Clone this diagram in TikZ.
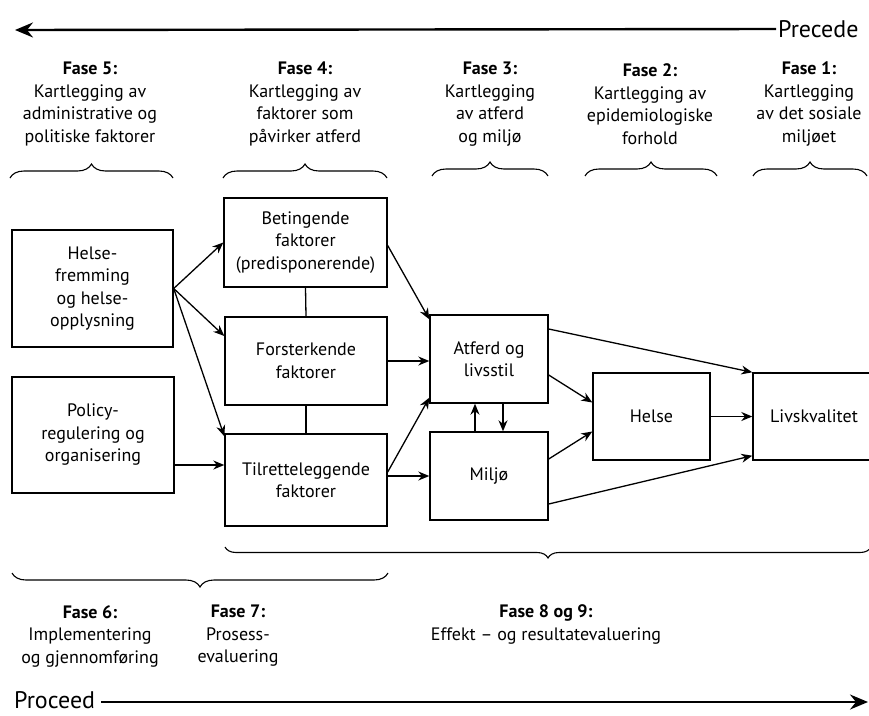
\documentclass[tikz,border=0pt]{standalone}
\usepackage{fontspec}
\setmainfont{PT Sans}
\usetikzlibrary{arrows.meta,decorations.pathreplacing,calc}
\begin{document}
\begin{tikzpicture}[x=1pt,y=-1pt,
  box/.style={draw,line width=1.4pt,align=center,inner sep=2pt,font=\fontsize{18}{22.5}\selectfont},
  conn/.style={line width=1.3pt,-{Stealth[length=11pt,width=9pt]}},
  link/.style={line width=1.3pt},
  phase/.style={align=center,inner sep=0pt,font=\fontsize{18}{22.5}\selectfont},
  big/.style={inner sep=0pt,font=\fontsize{24}{26}\selectfont},
  mainarrow/.style={line width=2.4pt,-{Stealth[length=18pt,width=15pt,inset=6pt]}},
  upbrace/.style={decorate,decoration={brace,amplitude=14pt},line width=1.1pt},
  downbrace/.style={decorate,decoration={brace,mirror,amplitude=#1},line width=1.1pt}
]
\useasboundingbox (0,0) rectangle (869,715);
\clip (0,0) rectangle (869,715);

% Precede / Proceed
\node[big,anchor=west] (precede) at (778,29) {Precede};
\coordinate (precEnd) at (15,30);
\draw[mainarrow] ([xshift=-2pt]precede.west) -- (precEnd);
\node[big,anchor=west] (proceed) at (14,700) {Proceed};
\coordinate (procEnd) at (868,702);
\draw[mainarrow] ([xshift=6pt,yshift=-2pt]proceed.east) -- (procEnd);

% phase headers
\node[phase] (f5) at (90,104) {\textbf{Fase 5:}\\Kartlegging av\\administrative og\\politiske faktorer};
\node[phase] (f4) at (305,104) {\textbf{Fase 4:}\\Kartlegging av\\faktorer som\\påvirker atferd};
\node[phase] (f3) at (490,104) {\textbf{Fase 3:}\\Kartlegging\\av atferd\\og miljø};
\node[phase] (f2) at (650,104) {\textbf{Fase 2:}\\Kartlegging av\\epidemiologiske\\forhold};
\node[phase] (f1) at (809,104) {\textbf{Fase 1:}\\Kartlegging\\av det sosiale\\miljøet};

% top braces
\coordinate (b5a) at (10,178);  \coordinate (b5b) at (173,178);
\coordinate (b4a) at (223,178); \coordinate (b4b) at (387,178);
\coordinate (b3a) at (432,176); \coordinate (b3b) at (548,176);
\coordinate (b2a) at (585,176); \coordinate (b2b) at (717,176);
\coordinate (b1a) at (753,176); \coordinate (b1b) at (867,176);
\draw[upbrace] (b5a) -- (b5b);
\draw[upbrace] (b4a) -- (b4b);
\draw[upbrace] (b3a) -- (b3b);
\draw[upbrace] (b2a) -- (b2b);
\draw[upbrace] (b1a) -- (b1b);

% boxes
\node[box,minimum width=161pt,minimum height=117pt] (hf) at (92.5,288.5) {Helse-\\fremming\\og helse-\\opplysning};
\node[box,minimum width=162pt,minimum height=116pt] (pol) at (93,435) {Policy-\\regulering og\\organisering};
\node[box,minimum width=163pt,minimum height=89pt] (bet) at (305.5,242.5) {Betingende\\faktorer\\(predisponerende)};
\node[box,minimum width=162pt,minimum height=88pt] (for) at (306,361) {Forsterkende\\faktorer};
\node[box,minimum width=162pt,minimum height=92pt] (til) at (306,480) {Tilretteleggende\\faktorer};
\node[box,minimum width=118pt,minimum height=88pt] (atf) at (489,359) {Atferd og\\livsstil};
\node[box,minimum width=118pt,minimum height=88pt] (mil) at (489,476) {Miljø};
\node[box,minimum width=117pt,minimum height=87pt] (hel) at (651.5,416.5) {Helse};
\node[box,minimum width=122pt,minimum height=87pt] (liv) at (814,416.5) {Livskvalitet};

% links
\draw[link] (bet.south) -- (for.north);
\draw[link] (for.south) -- (til.north);

% connectors
\draw[conn] (hf.east) -- (bet.west);
\draw[conn] (hf.east) -- ([yshift=25pt]for.west);
\draw[conn] (hf.east) -- ([yshift=-3pt]til.north west);
\coordinate (pe) at ($(pol.east)+(0,30)$);
\draw[conn] (pe) -- (pe -| til.west);
\draw[conn] ([yshift=-3pt]bet.east) -- ([yshift=-5pt]atf.north west);
\draw[conn] (for.east) -- (for.east -| atf.west);
\draw[conn] ([yshift=8pt]til.east) -- ([yshift=6pt]atf.south west);
\draw[conn] (mil.west -| til.east) -- (mil.west);
\draw[conn] ([xshift=-14pt]mil.north) -- ([xshift=-14pt]atf.south);
\draw[conn] ([xshift=14pt]atf.south) -- ([xshift=14pt]mil.north);
\draw[conn] ([yshift=30pt]atf.east) -- (liv.north west);
\draw[conn] ([yshift=-16pt]atf.east) -- ([yshift=14pt]hel.west);
\draw[conn] ([yshift=17pt]mil.east) -- ([yshift=-15pt]hel.west);
\draw[conn] ([yshift=-28pt]mil.east) -- ([yshift=5pt]liv.south west);
\draw[conn] (hel.east) -- (liv.west);

% bottom braces
\coordinate (b67a) at (12,573);  \coordinate (b67b) at (388,573);
\coordinate (b89a) at (225,547); \coordinate (b89b) at (871,547);
\draw[downbrace=14pt] (b67a) -- (b67b);
\draw[downbrace=11pt] (b89a) -- (b89b);

% bottom phases
\node[phase] (f6) at (90,636) {\textbf{Fase 6:}\\Implementering\\og gjennomføring};
\node[phase] (f7) at (238,636) {\textbf{Fase 7:}\\Prosess-\\evaluering};
\node[phase] (f89) at (546,624.5) {\textbf{Fase 8 og 9:}\\Effekt – og resultatevaluering};
\end{tikzpicture}
\end{document}
